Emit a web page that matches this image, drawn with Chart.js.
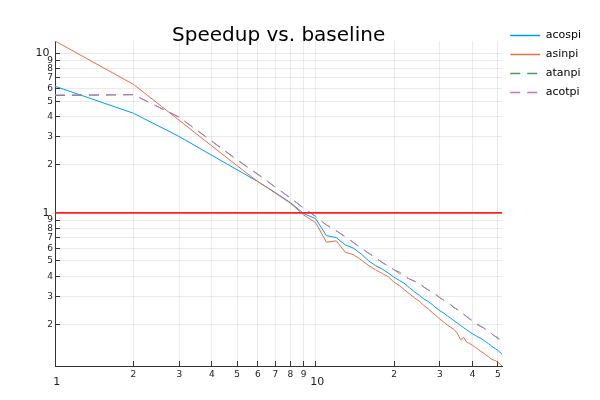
<!DOCTYPE html>
<html>
<head>
<meta charset="utf-8">
<script src="https://cdn.jsdelivr.net/npm/chart.js@4.4.0/dist/chart.umd.min.js"></script>
<style>
  html, body { margin: 0; padding: 0; background: #fff; }
  #wrap { width: 600px; height: 400px; }
</style>
</head>
<body>
<div id="wrap"><canvas id="speedup" width="600" height="400"></canvas></div>
<script>
// Speedup vs. baseline, log-log
const xValues = [1, 2, 3, 4, 5, 6, 7, 8, 9, 10,
  11, 12, 13, 14, 15, 16, 17, 18, 19, 20,
  21, 22, 23, 24, 25, 26, 27, 28, 29, 30,
  31, 32, 33, 34, 35, 36, 37, 38, 39, 40,
  41, 42, 43, 44, 45, 46, 47, 48, 49, 50,
  51, 52];

const acospi = [6.2, 4.2, 3.0, 2.29, 1.86, 1.57, 1.34, 1.16, 0.99, 0.92,
  0.72, 0.70, 0.63, 0.60, 0.55, 0.50, 0.467, 0.445, 0.42, 0.395,
  0.377, 0.36, 0.338, 0.32, 0.305, 0.289, 0.279, 0.267, 0.254, 0.244,
  0.236, 0.227, 0.219, 0.211, 0.204, 0.197, 0.191, 0.185, 0.180, 0.175,
  0.171, 0.167, 0.164, 0.160, 0.156, 0.152, 0.148, 0.144, 0.141, 0.138,
  0.134, 0.130];

const asinpi = [11.9, 6.37, 3.79, 2.62, 1.97, 1.57, 1.33, 1.15, 0.97, 0.87,
  0.655, 0.668, 0.567, 0.547, 0.505, 0.468, 0.44, 0.418, 0.398, 0.368,
  0.35, 0.328, 0.31, 0.293, 0.28, 0.263, 0.251, 0.238, 0.227, 0.216,
  0.207, 0.199, 0.192, 0.186, 0.176, 0.161, 0.166, 0.155, 0.152, 0.148,
  0.144, 0.14, 0.136, 0.133, 0.129, 0.126, 0.122, 0.12, 0.119, 0.116,
  0.113, 0.110];

const atanpi = [5.42, 5.48, 3.96, 2.8, 2.14, 1.74, 1.45, 1.24, 1.07, 0.95,
  0.84, 0.772, 0.708, 0.65, 0.60, 0.558, 0.523, 0.49, 0.463, 0.44,
  0.425, 0.40, 0.384, 0.373, 0.36, 0.343, 0.33, 0.318, 0.307, 0.294,
  0.284, 0.276, 0.266, 0.255, 0.248, 0.236, 0.232, 0.224, 0.217, 0.211,
  0.205, 0.2, 0.195, 0.191, 0.186, 0.182, 0.177, 0.172, 0.168, 0.166,
  0.161, 0.16];

const acotpi = [5.47, 5.5, 3.97, 2.81, 2.15, 1.75, 1.45, 1.24, 1.07, 0.95,
  0.84, 0.772, 0.708, 0.65, 0.60, 0.558, 0.523, 0.49, 0.463, 0.44,
  0.415, 0.40, 0.384, 0.373, 0.365, 0.343, 0.33, 0.318, 0.307, 0.294,
  0.284, 0.276, 0.266, 0.255, 0.248, 0.24, 0.232, 0.224, 0.217, 0.211,
  0.205, 0.198, 0.195, 0.191, 0.186, 0.182, 0.177, 0.172, 0.168, 0.163,
  0.161, 0.157];

const baselineX = [1, 52];
const baselineY = [1, 1];

const seriesNames = ['acospi', 'asinpi', 'atanpi', 'acotpi'];
const seriesColors = ['#009AFA', '#E36F47', '#3EA44E', '#C371D2'];

const xTicks = [1, 2, 3, 4, 5, 6, 7, 8, 9, 10, 20, 30, 40, 50];
const yTicks = [0.2, 0.3, 0.4, 0.5, 0.6, 0.7, 0.8, 0.9, 1, 2, 3, 4, 5, 6, 7, 8, 9, 10];
const majorTicks = [1, 10];

const FAMILY = '"DejaVu Sans", sans-serif';
const DASH = [10, 7];
const isMajor = v => majorTicks.includes(v);

function points(xs, ys) {
  return xs.map((x, i) => ({ x: x, y: ys[i] }));
}

function buildDatasets() {
  const all = [acospi, asinpi, atanpi, acotpi];
  const sets = all.map((ys, i) => ({
    label: seriesNames[i],
    data: points(xValues, ys),
    borderColor: seriesColors[i],
    backgroundColor: seriesColors[i],
    borderWidth: 1,
    borderDash: i >= 2 ? DASH : [],
    pointRadius: 0,
    tension: 0,
    order: 5 - i
  }));
  sets.push({
    label: '',
    data: points(baselineX, baselineY),
    borderColor: '#FF2020',
    borderWidth: 1.6,
    pointRadius: 0,
    order: 0
  });
  return sets;
}

// legend entries: a short line sample in each series style
function legendLabels(chart) {
  return seriesNames.map((name, i) => ({
    text: name,
    datasetIndex: i,
    strokeStyle: seriesColors[i],
    fillStyle: seriesColors[i],
    fontColor: '#000',
    lineWidth: 1.4,
    lineDash: i >= 2 ? DASH : [],
    pointStyle: 'line',
    hidden: !chart.isDatasetVisible(i)
  }));
}

const gridOpts = {
  color: 'rgba(0,0,0,0.08)',
  lineWidth: 1,
  tickLength: -5,
  tickColor: '#333',
  tickWidth: 1
};

function renderChart() {
  const ctx = document.getElementById('speedup').getContext('2d');
  new Chart(ctx, {
    type: 'line',
    data: { datasets: buildDatasets() },
    options: {
      responsive: false,
      animation: false,
      devicePixelRatio: 1,
      layout: { padding: { top: 22, right: 9, bottom: 0, left: 0 } },
      plugins: {
        tooltip: { enabled: false },
        title: {
          display: true,
          text: 'Speedup vs. baseline',
          color: '#000',
          fullSize: false,
          font: { family: FAMILY, size: 20, weight: 'normal', lineHeight: 1.2 },
          padding: { top: 1.5, bottom: -6.5 }
        },
        legend: {
          position: 'right',
          align: 'start',
          labels: {
            usePointStyle: true,
            pointStyle: 'line',
            pointStyleWidth: 30,
            boxWidth: 30,
            padding: 8,
            color: '#000',
            font: { family: FAMILY, size: 11 },
            generateLabels: legendLabels
          }
        }
      },
      scales: {
        x: {
          type: 'logarithmic',
          min: 1,
          max: 52,
          border: { display: true, color: '#333', width: 1 },
          grid: gridOpts,
          afterBuildTicks: scale => { scale.ticks = xTicks.map(v => ({ value: v })); },
          afterFit: scale => { scale.height = 34; },
          ticks: {
            autoSkip: false,
            maxRotation: 0,
            padding: 8.6,
            color: '#222',
            font: c => isMajor(c.tick && c.tick.value)
              ? { family: FAMILY, size: 11, lineHeight: 0.78 }
              : { family: FAMILY, size: 9 },
            callback: v => {
              if (isMajor(v)) return ['', ' ' + v];
              return String(v < 10 ? v : v / 10);
            }
          }
        },
        y: {
          type: 'logarithmic',
          min: 0.11,
          max: 11.9,
          border: { display: true, color: '#333', width: 1 },
          grid: gridOpts,
          afterBuildTicks: scale => { scale.ticks = yTicks.map(v => ({ value: v })); },
          afterFit: scale => { scale.width = 55; },
          ticks: {
            autoSkip: false,
            padding: 7,
            color: '#222',
            font: c => isMajor(c.tick && c.tick.value)
              ? { family: FAMILY, size: 11 }
              : { family: FAMILY, size: 9 },
            callback: v => {
              if (isMajor(v)) return v + ' ';
              return String(v < 1 ? Math.round(v * 10) : v);
            }
          }
        }
      }
    }
  });
}

document.addEventListener('DOMContentLoaded', renderChart);
</script>
</body>
</html>
